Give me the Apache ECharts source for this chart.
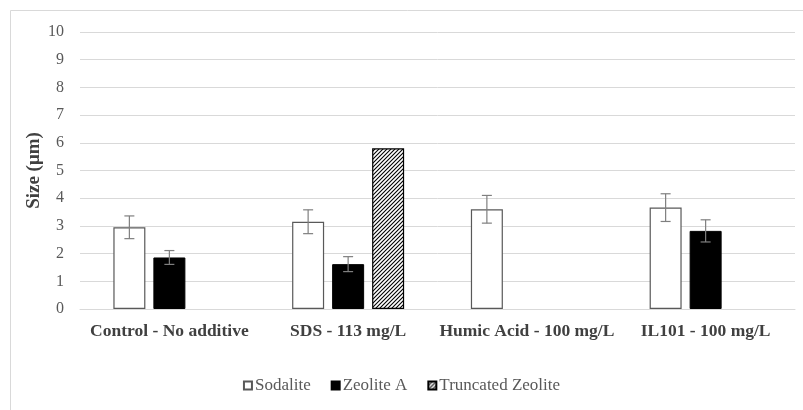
<!DOCTYPE html>
<html>
<head>
<meta charset="utf-8">
<script src="https://cdn.jsdelivr.net/npm/echarts@6/dist/echarts.min.js"></script>
<style>
  html, body { margin: 0; padding: 0; background: #ffffff; }
  #chart { width: 803px; height: 410px; }
</style>
</head>
<body>
<div id="chart"></div>
<script>
// Particle size by additive
const categories = ['Control - No additive', 'SDS - 113 mg/L', 'Humic Acid - 100 mg/L', 'IL101 - 100 mg/L'];
const seriesNames = ['Sodalite', 'Zeolite A', 'Truncated Zeolite'];
const sodalite = [2.95, 3.15, 3.60, 3.66];
const sodaliteErr = [0.41, 0.43, 0.50, 0.50];
const zeoliteA = [1.86, 1.62, null, 2.82];
const zeoliteAErr = [0.25, 0.27, null, 0.40];
const truncated = [null, 5.80, null, null];
const truncatedErr = [null, null, null, null];
const yTicks = [0, 1, 2, 3, 4, 5, 6, 7, 8, 9, 10];

const FONT = '"Liberation Serif", "Times New Roman", serif';
const BAR_W = 32;
const BAR_GAP = 8;

// Diagonal hatch fill
function hatchPattern() {
  const c = document.createElement('canvas');
  c.width = 4; c.height = 4;
  const ctx = c.getContext('2d');
  ctx.fillStyle = '#ffffff';
  ctx.fillRect(0, 0, 4, 4);
  ctx.strokeStyle = '#000000';
  ctx.lineWidth = 1.1;
  ctx.beginPath();
  ctx.moveTo(0, 4); ctx.lineTo(4, 0);
  ctx.moveTo(-1, 1); ctx.lineTo(1, -1);
  ctx.moveTo(3, 5); ctx.lineTo(5, 3);
  ctx.stroke();
  return { image: c, repeat: 'repeat' };
}

function errorData(values, errs) {
  const out = [];
  values.forEach((v, i) => {
    if (v != null && errs[i] != null) out.push([i, v - errs[i], v + errs[i]]);
  });
  return out;
}

function errorSeries(values, errs, slot) {
  return {
    type: 'custom',
    name: 'err' + slot,
    silent: true,
    z: 5,
    data: errorData(values, errs),
    encode: { x: 0, y: [1, 2] },
    renderItem: function (params, api) {
      const cat = api.value(0);
      const lo = api.coord([cat, api.value(1)]);
      const hi = api.coord([cat, api.value(2)]);
      const x = lo[0] + (slot - 1) * (BAR_W + BAR_GAP);
      const cap = 5;
      const st = { stroke: '#7f7f7f', lineWidth: 1.2 };
      return {
        type: 'group',
        children: [
          { type: 'line', shape: { x1: x, y1: hi[1], x2: x, y2: lo[1] }, style: st },
          { type: 'line', shape: { x1: x - cap, y1: hi[1], x2: x + cap, y2: hi[1] }, style: st },
          { type: 'line', shape: { x1: x - cap, y1: lo[1], x2: x + cap, y2: lo[1] }, style: st }
        ]
      };
    }
  };
}

const chart = echarts.init(document.getElementById('chart'), null, { renderer: 'canvas' });

chart.setOption({
  animation: false,
  backgroundColor: '#ffffff',
  graphic: [{
    type: 'rect',
    shape: { x: 10.5, y: 10.5, width: 800, height: 420 },
    style: { fill: 'none', stroke: '#d9d9d9', lineWidth: 1 },
    silent: true
  }],
  grid: { left: 80, right: 8, top: 32, bottom: 101, containLabel: false },
  legend: {
    data: seriesNames,
    bottom: 11,
    left: 'center',
    itemWidth: 8,
    itemHeight: 8,
    itemGap: 20,
    icon: 'rect',
    textStyle: { fontFamily: FONT, fontSize: 17, color: '#595959', padding: [0, 0, 0, -2] }
  },
  xAxis: {
    type: 'category',
    data: categories,
    axisLine: { show: true, lineStyle: { color: '#d9d9d9', width: 1 } },
    axisTick: { show: false },
    axisLabel: { fontFamily: FONT, fontSize: 17.5, fontWeight: 'bold', color: '#404040', margin: 13, interval: 0 }
  },
  yAxis: {
    type: 'value',
    min: yTicks[0],
    max: yTicks[yTicks.length - 1],
    interval: 1,
    name: 'Size (μm)',
    nameLocation: 'middle',
    nameGap: 36,
    nameMoveOverlap: false,
    nameRotate: 90,
    nameTextStyle: { fontFamily: FONT, fontSize: 19, fontWeight: 'bold', color: '#404040' },
    axisLine: { show: false },
    axisTick: { show: false },
    splitLine: { lineStyle: { color: '#d9d9d9', width: 1 } },
    axisLabel: { fontFamily: FONT, fontSize: 16, color: '#595959', margin: 16 }
  },
  series: [
    {
      name: seriesNames[0], type: 'bar', data: sodalite,
      barWidth: BAR_W, barGap: (BAR_GAP / BAR_W * 100) + '%',
      itemStyle: { color: '#ffffff', borderColor: '#595959', borderWidth: 1.2 }
    },
    {
      name: seriesNames[1], type: 'bar', data: zeoliteA,
      barWidth: BAR_W,
      itemStyle: { color: '#000000', borderColor: '#000000', borderWidth: 1 }
    },
    {
      name: seriesNames[2], type: 'bar', data: truncated,
      barWidth: BAR_W,
      itemStyle: { color: hatchPattern(), borderColor: '#000000', borderWidth: 1.2 }
    },
    errorSeries(sodalite, sodaliteErr, 0),
    errorSeries(zeoliteA, zeoliteAErr, 1),
    errorSeries(truncated, truncatedErr, 2)
  ]
});
</script>
</body>
</html>
